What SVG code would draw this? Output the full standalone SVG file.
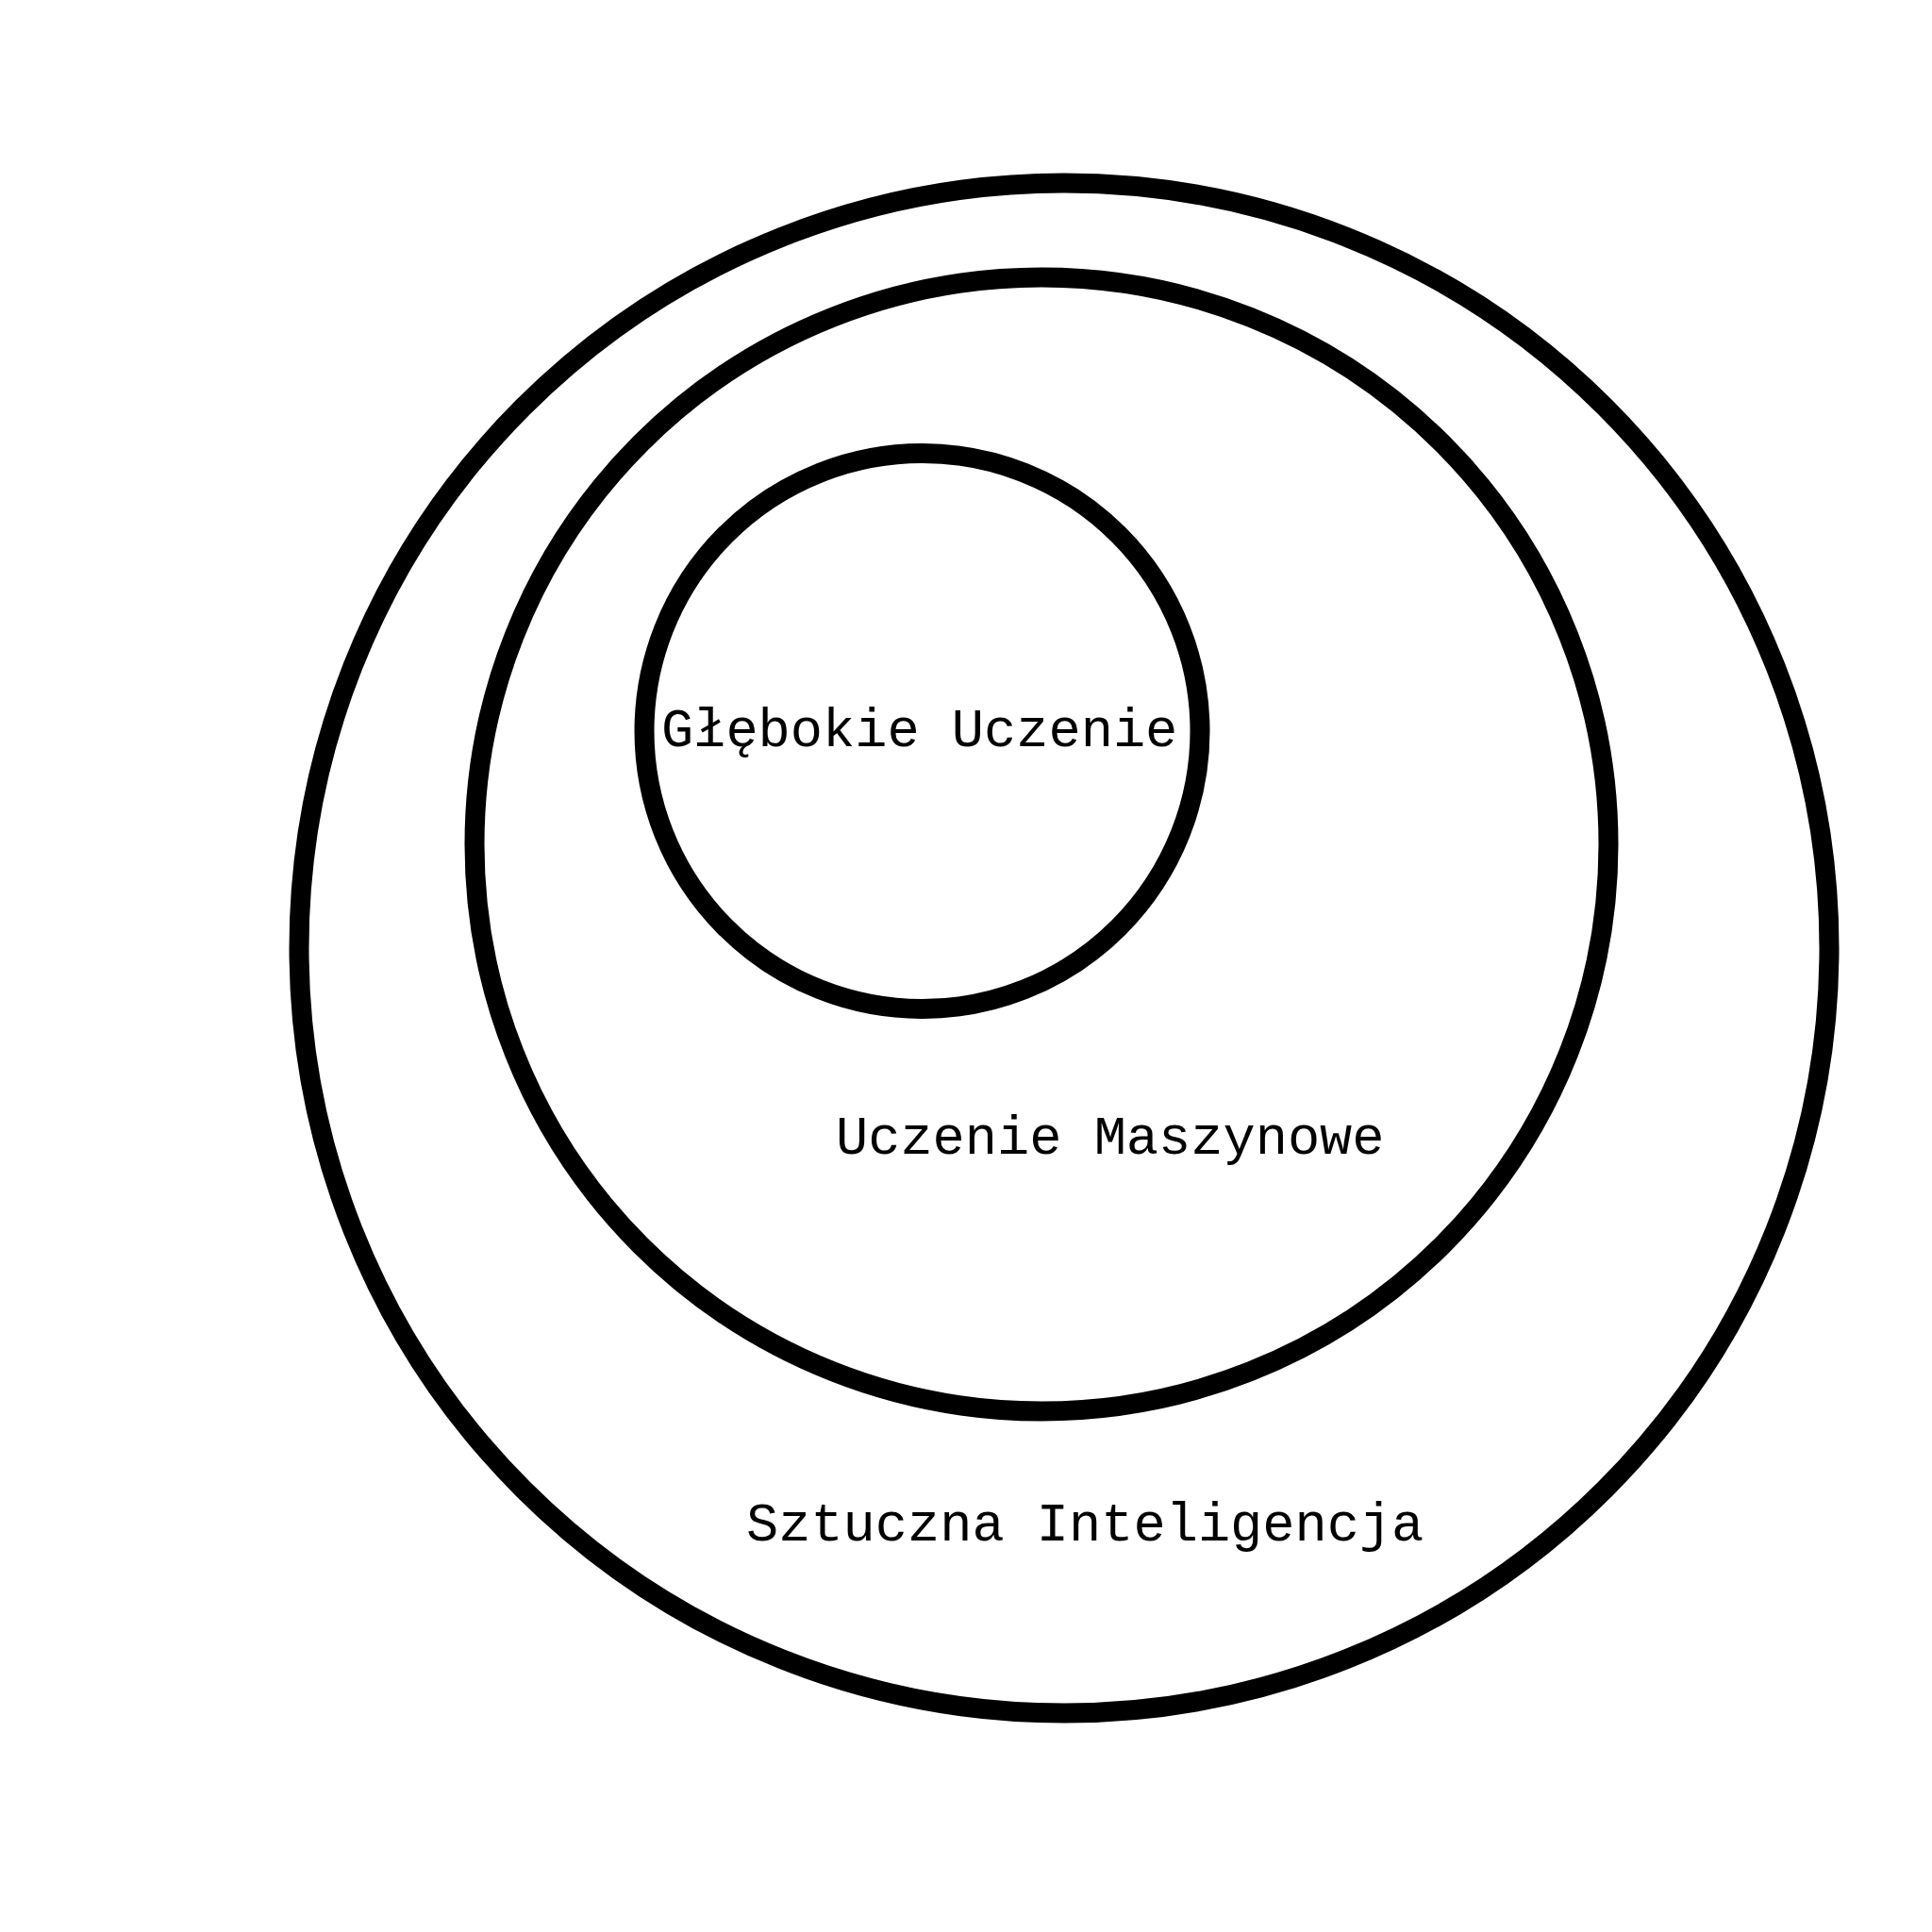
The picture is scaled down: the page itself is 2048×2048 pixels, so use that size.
<svg xmlns="http://www.w3.org/2000/svg" width="2048" height="2048" viewBox="0 0 2048 2048">
<style>
.ring{fill:none;stroke:#000;stroke-width:21}
.lbl{font-family:"Liberation Mono","Courier New",monospace;font-size:57px;fill:#000}
</style>
<rect width="2048" height="2048" fill="#fff"/>
<g id="ai">
<circle class="ring" cx="1128" cy="1005" r="811"/>
<text class="lbl" x="791" y="1633">Sztuczna Inteligencja</text>
</g>
<g id="ml">
<circle class="ring" cx="1104" cy="895" r="601"/>
<text class="lbl" x="886" y="1223">Uczenie Maszynowe</text>
</g>
<g id="dl">
<circle class="ring" cx="977.5" cy="775" r="294.5"/>
<text class="lbl" x="701" y="791">Głębokie Uczenie</text>
</g>
<g id="connectors"/>
</svg>
